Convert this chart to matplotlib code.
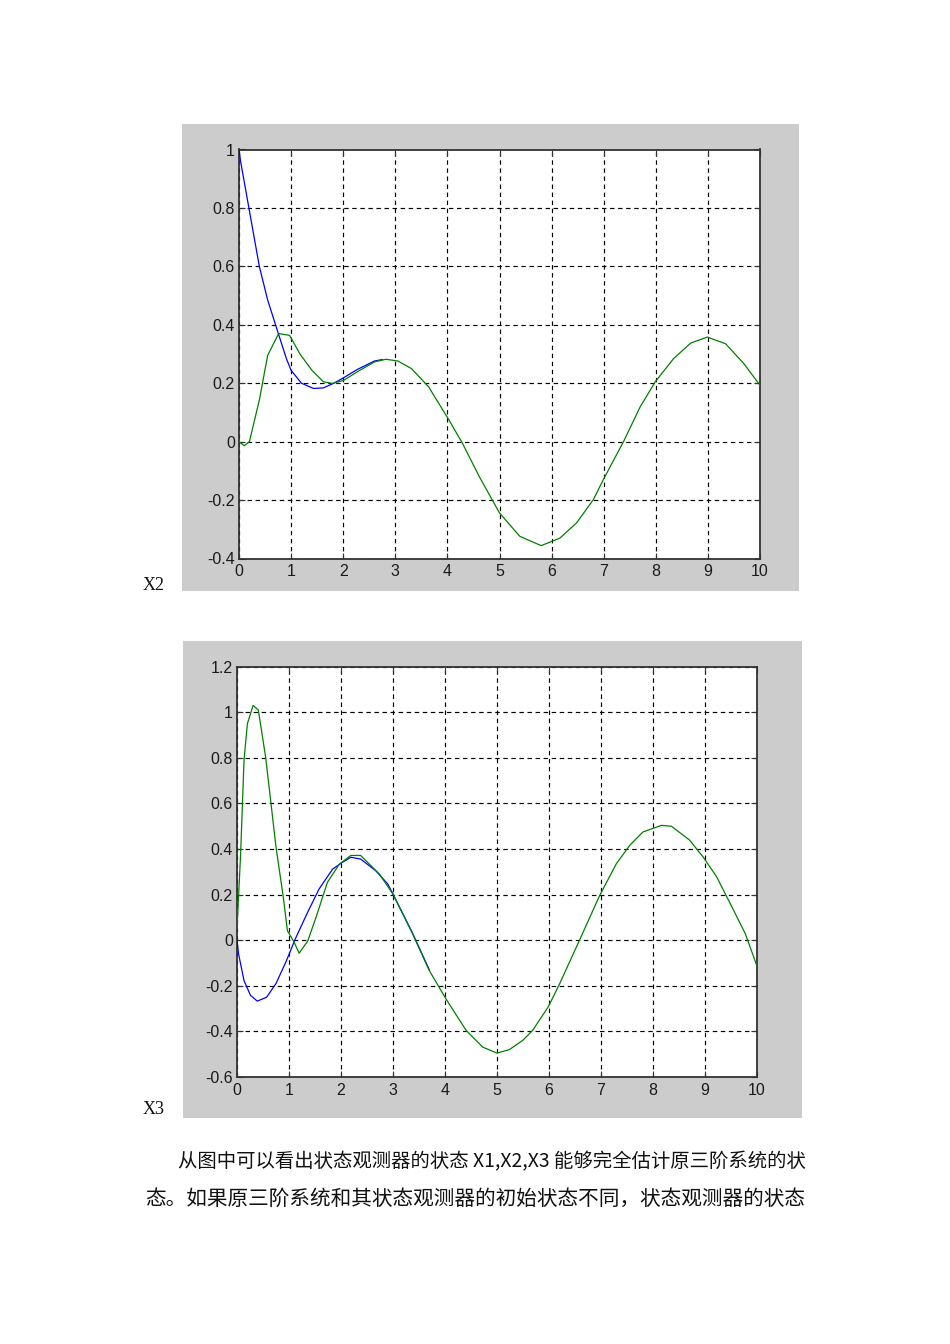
import matplotlib
matplotlib.use("Agg")
import matplotlib.pyplot as plt

# ---------------- data ----------------
x2_blue_t = [0, 0.03, 0.19, 0.39, 0.55, 0.71, 0.91, 1.0, 1.2, 1.43, 1.62, 1.82, 2.01, 2.27, 2.6, 2.75]
x2_blue_v = [1.0, 0.96, 0.8, 0.6, 0.485, 0.395, 0.284, 0.244, 0.2, 0.182, 0.184, 0.2, 0.219, 0.247, 0.276, 0.281]

x2_green_t = [0, 0.1, 0.2, 0.39, 0.55, 0.76, 0.97, 1.17, 1.40, 1.62, 1.79, 2.01, 2.27, 2.6, 2.82, 3.05,
              3.31, 3.64, 4.03, 4.29, 4.61, 5.0, 5.39, 5.8, 6.16, 6.48, 6.8, 6.99, 7.38, 7.7, 7.99,
              8.34, 8.67, 8.99, 9.34, 9.69, 10.0]
x2_green_v = [0, -0.014, 0, 0.142, 0.295, 0.37, 0.364, 0.30, 0.244, 0.205, 0.199, 0.21, 0.239, 0.273,
              0.282, 0.276, 0.25, 0.1875, 0.074, -0.006, -0.119, -0.244, -0.324, -0.356, -0.33, -0.278,
              -0.199, -0.131, 0, 0.119, 0.205, 0.284, 0.3375, 0.358, 0.335, 0.267, 0.193]

x3_blue_t = [0, 0.03, 0.135, 0.26, 0.39, 0.57, 0.75, 0.94, 1.13, 1.36, 1.58, 1.84, 2.03, 2.19, 2.38,
             2.67, 2.9, 3.0, 3.38, 3.7]
x3_blue_v = [0, -0.06, -0.177, -0.242, -0.267, -0.25, -0.19, -0.096, 0.01, 0.123, 0.225, 0.312, 0.342,
             0.364, 0.356, 0.305, 0.247, 0.203, 0.03, -0.13]

x3_green_t = [0, 0.07, 0.135, 0.2, 0.31, 0.41, 0.55, 0.75, 0.89, 0.97, 1.10, 1.195, 1.36, 1.52, 1.74,
              1.97, 2.19, 2.38, 2.74, 3.0, 3.38, 3.70, 4.02, 4.41, 4.73, 5.0, 5.24, 5.5, 5.69, 5.99,
              6.21, 6.59, 6.98, 7.3, 7.56, 7.81, 8.17, 8.36, 8.71, 8.97, 9.23, 9.49, 9.78, 10.0]
x3_green_v = [0.05, 0.38, 0.79, 0.95, 1.03, 1.01, 0.805, 0.41, 0.19, 0.042, -0.009, -0.057, -0.004,
              0.10, 0.254, 0.334, 0.372, 0.372, 0.29, 0.203, 0.028, -0.133, -0.257, -0.396, -0.469,
              -0.495, -0.48, -0.439, -0.395, -0.292, -0.19, 0, 0.197, 0.336, 0.417, 0.475, 0.504, 0.5,
              0.439, 0.365, 0.278, 0.161, 0.029, -0.11]

x_ticks = [0, 1, 2, 3, 4, 5, 6, 7, 8, 9, 10]
x2_yticks = [-0.4, -0.2, 0, 0.2, 0.4, 0.6, 0.8, 1.0]
x2_ylabels = ['-0.4', '-0.2', '0', '0.2', '0.4', '0.6', '0.8', '1']
x3_yticks = [-0.6, -0.4, -0.2, 0, 0.2, 0.4, 0.6, 0.8, 1.0, 1.2]
x3_ylabels = ['-0.6', '-0.4', '-0.2', '0', '0.2', '0.4', '0.6', '0.8', '1', '1.2']

label_x2 = "X2"
label_x3 = "X3"
para_line1 = "从图中可以看出状态观测器的状态 X1,X2,X3 能够完全估计原三阶系统的状"
para_line2 = "态。如果原三阶系统和其状态观测器的初始状态不同，状态观测器的状态"

# ---------------- figure ----------------
W, H = 950, 1344
fig = plt.figure(figsize=(W / 100, H / 100), dpi=100)
fig.patch.set_facecolor("white")
plt.rcParams['lines.scale_dashes'] = False


def fx(px):
    return px / W


def fy(py):
    return 1 - py / H


def panel(x0, y0, x1, y1):
    pax = fig.add_axes([fx(x0), fy(y1), fx(x1) - fx(x0), fy(y0) - fy(y1)], zorder=-5)
    pax.set_facecolor("#cccccc")
    pax.set_xticks([])
    pax.set_yticks([])
    for s in pax.spines.values():
        s.set_visible(False)


def make_axes(x0, y0, x1, y1, bt, bv, gt, gv, ylim, yticks, ylabels):
    ax = fig.add_axes([fx(x0), fy(y1), fx(x1) - fx(x0), fy(y0) - fy(y1)], zorder=1)
    ax.set_facecolor("white")
    ax.plot(bt, bv, color=(0, 0, 1), lw=0.9, zorder=3)
    ax.plot(gt, gv, color=(0, 0.5, 0), lw=0.9, zorder=4)
    ax.set_xlim(0, 10)
    ax.set_ylim(*ylim)
    ax.set_xticks(x_ticks)
    ax.set_xticklabels([str(t) for t in x_ticks])
    ax.set_yticks(yticks)
    ax.set_yticklabels(ylabels)
    ax.grid(True, color="black", linestyle=(0, (3.2, 2.6)), lw=0.85)
    ax.tick_params(direction="in", length=4, width=0.8, top=True, right=True,
                   labelsize=11.5, labelcolor="#1a1a1a", color="#333333")
    ax.tick_params(axis="x", pad=4)
    ax.tick_params(axis="y", pad=3)
    for lab in ax.get_xticklabels() + ax.get_yticklabels():
        lab.set_fontfamily("Liberation Sans")
    for s in ax.spines.values():
        s.set_color("#333333")
        s.set_linewidth(1.3)
    return ax


# top chart (X2)
panel(182, 124, 799, 591)
make_axes(239, 149.5, 760, 558.5, x2_blue_t, x2_blue_v, x2_green_t, x2_green_v,
          (-0.4, 1.0), x2_yticks, x2_ylabels)

# bottom chart (X3)
panel(183, 641, 802, 1117.5)
make_axes(237, 666.7, 756.7, 1077, x3_blue_t, x3_blue_v, x3_green_t, x3_green_v,
          (-0.6, 1.2), x3_yticks, x3_ylabels)

# side labels
fig.text(fx(143), fy(585), label_x2, fontsize=13, family="Liberation Serif",
         va="center", ha="left", color="#111111")
fig.text(fx(143), fy(1110), label_x3, fontsize=13, family="Liberation Serif",
         va="center", ha="left", color="#111111")

# paragraph text
cjk = ["Noto Sans CJK SC", "DejaVu Sans"]
fig.text(fx(178), fy(1162), para_line1, fontsize=13.95, family=cjk, va="center", ha="left",
         color="#111111")
fig.text(fx(145), fy(1199), para_line2, fontsize=14.85, family=cjk, va="center", ha="left",
         color="#111111")

fig.savefig("out.png", dpi=100, facecolor="white")
